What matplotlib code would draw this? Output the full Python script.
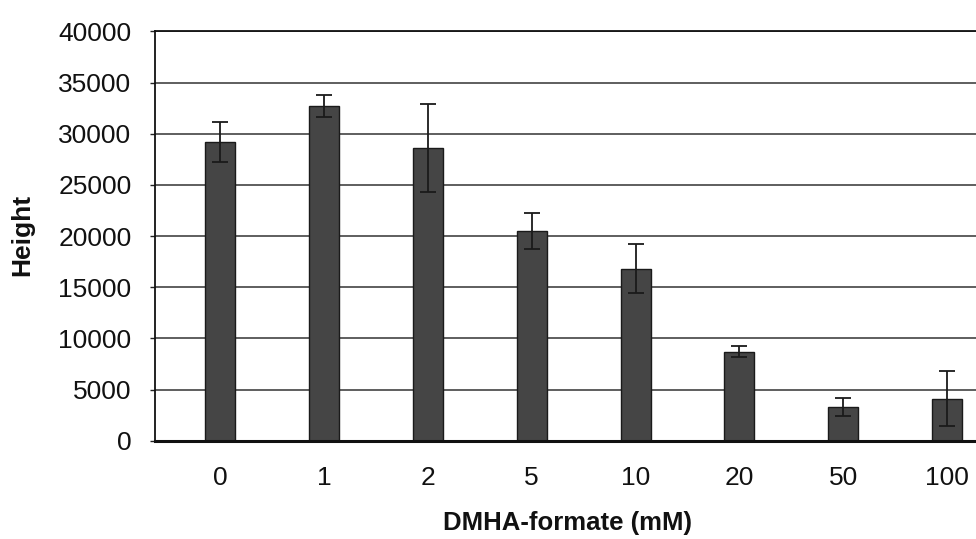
import matplotlib
matplotlib.use("Agg")
import matplotlib.pyplot as plt
import numpy as np

categories = ["0", "1", "2", "5", "10", "20", "50", "100"]
heights = [29200, 32700, 28600, 20500, 16800, 8700, 3300, 4100]
errors = [1950, 1100, 4300, 1800, 2400, 550, 850, 2700]
yticks = [0, 5000, 10000, 15000, 20000, 25000, 30000, 35000, 40000]

plt.rcParams['font.family'] = ['Liberation Sans', 'DejaVu Sans']

fig = plt.figure(figsize=(9.76, 5.39), dpi=100)
ax = fig.add_axes([0.1588, 0.1824, 0.8412, 0.7592])

x = np.arange(len(categories))
ax.set_axisbelow(True)
ax.yaxis.grid(True, color='#333333', linewidth=1.1)
ax.bar(x, heights, width=0.29, color='#454545', edgecolor='#1a1a1a', linewidth=1.0, zorder=2)
ax.errorbar(x, heights, yerr=errors, fmt='none', ecolor='#1a1a1a', elinewidth=1.3,
            capsize=6, capthick=1.3, zorder=3)

ax.set_xlim(-0.63, 7.28)
ax.set_ylim(0, 40000)
ax.set_yticks(yticks)
ax.set_yticklabels([str(v) for v in yticks])
ax.set_xticks(x)
ax.set_xticklabels(categories)

ax.tick_params(axis='y', length=3.5, width=1, pad=13.5, labelsize=19, color='#222222',
               labelcolor='#111111')
ax.tick_params(axis='x', length=0, pad=18.5, labelsize=19, labelcolor='#111111')

for s in ['left', 'top']:
    ax.spines[s].set_linewidth(1.3)
    ax.spines[s].set_color('#111111')
ax.spines['bottom'].set_linewidth(2.2)
ax.spines['bottom'].set_color('#111111')
ax.spines['right'].set_visible(False)

ax.set_xlabel('DMHA-formate (mM)', fontsize=18.5, fontweight='bold', color='#111111')
ax.xaxis.set_label_coords(0.503, -0.172)
ax.set_ylabel('Height', fontsize=19, fontweight='bold', color='#111111')
ax.yaxis.set_label_coords(-0.147, 0.503)

fig.savefig('out.png', dpi=100)
